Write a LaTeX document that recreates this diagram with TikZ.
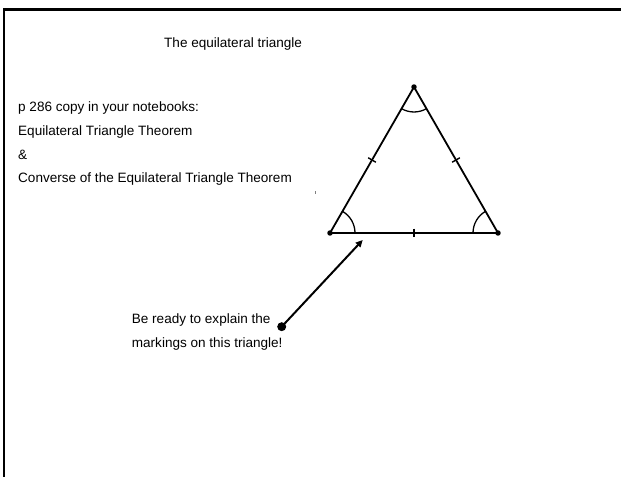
\documentclass[tikz,border=0pt]{standalone}
\usepackage{fontspec}
\setmainfont{Liberation Sans}
\usetikzlibrary{arrows.meta,calc}
\begin{document}
\begin{tikzpicture}[x=1bp,y=1bp,
  txt/.style={anchor=base west,inner sep=0pt,font=\fontsize{13.6}{16}\selectfont},
  side/.style={line width=1.8pt},
  tick/.style={line width=1.4pt},
  ang/.style={line width=1.3pt},
  vdot/.style={circle,fill=black,inner sep=0pt,minimum size=5.5pt},
  bigdot/.style={circle,fill=black,inner sep=0pt,minimum size=9pt},
  pointer/.style={line width=2pt,-{Triangle[length=7pt,width=6.5pt]}}]
\useasboundingbox (0,0) rectangle (621,477);
\fill[white] (-10,-10) rectangle (640,490);
% frame
\draw[line width=3pt] (4,-5) -- (4,467) -- (630,467);
% texts
\node[txt] (title) at (164,429) {The equilateral triangle};
\node[txt] (l1) at (18,365) {p 286 copy in your notebooks:};
\node[txt] (l2) at (18,341.4) {Equilateral Triangle Theorem};
\node[txt] (l3) at (18,317.8) {\&};
\node[txt] (l4) at (18,294.2) {Converse of the Equilateral Triangle Theorem};
\node[txt] (b1) at (131.7,153) {Be ready to explain the};
\node[txt] (b2) at (131.7,129.3) {markings on this triangle!};
% triangle
\coordinate (A) at (330,244);
\coordinate (B) at (498,244);
\coordinate (C) at (414,390);
\draw[side] (A) -- (B) -- (C) -- cycle;
\node[vdot] (dA) at (A) {};
\node[vdot] (dB) at (B) {};
\node[vdot] (dC) at (C) {};
% angle arcs
\draw[ang] ($(A)+(25,0)$) arc (0:60:25bp);
\draw[ang] ($(B)+(-25,0)$) arc (180:120:25bp);
\draw[ang] ($(C)+(240:25bp)$) arc (240:300:25bp);
% tick marks
\coordinate (mAC) at ($(A)!0.5!(C)$);
\coordinate (mBC) at ($(B)!0.5!(C)$);
\coordinate (mAB) at ($(A)!0.5!(B)$);
\draw[tick] ($(mAC)!4.5pt!90:(C)$) -- ($(mAC)!4.5pt!-90:(C)$);
\draw[tick] ($(mBC)!4.5pt!90:(C)$) -- ($(mBC)!4.5pt!-90:(C)$);
\draw[tick] ($(mAB)!4.5pt!90:(B)$) -- ($(mAB)!4.5pt!-90:(B)$);
% tiny stray mark
\draw[gray,line width=0.8pt] (315,283) -- (315,285.5);
% pointer
\node[bigdot] (start) at (281.7,150.3) {};
\coordinate (tip) at (362.7,237);
\draw[pointer] (start.center) -- (tip);
\end{tikzpicture}
\end{document}
